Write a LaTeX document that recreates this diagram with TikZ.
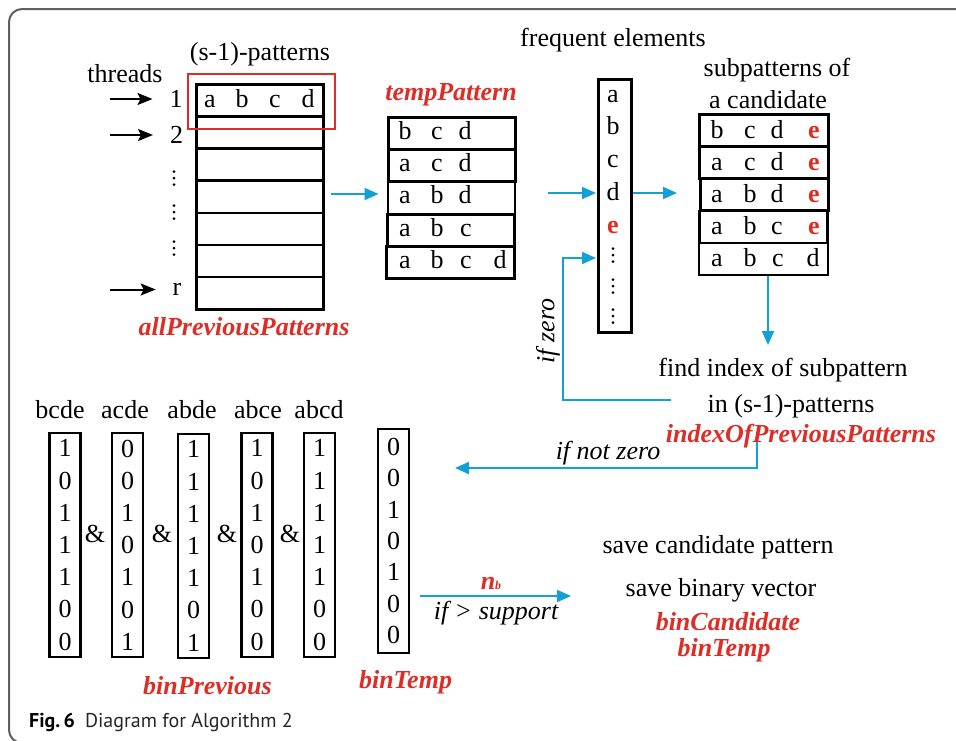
\documentclass[tikz,border=0pt]{standalone}
\usepackage{fontspec}
\setmainfont{Liberation Serif}
\newfontfamily\capfont{PT Sans}
\usetikzlibrary{arrows.meta}
\definecolor{hred}{RGB}{222,45,38}
\definecolor{hblue}{RGB}{18,160,215}
\definecolor{framegray}{RGB}{95,95,95}
\tikzset{
  txt/.style={inner sep=0pt, outer sep=0pt, font=\fontsize{26}{30}\selectfont},
  redtxt/.style={txt, text=hred, font=\fontsize{26}{30}\selectfont\bfseries\itshape},
  ittxt/.style={txt, font=\fontsize{26}{30}\selectfont\itshape},
  cell/.style={draw=black, line width=2.5pt, inner sep=0pt, anchor=north west},
  vec/.style={draw=black, line width=2.5pt, inner sep=0pt, minimum width=31pt, minimum height=224pt, align=center, font=\fontsize{26}{32.2}\selectfont},
  bluearr/.style={draw=hblue, line width=2pt, -{Triangle[length=14pt,width=12pt]}},
  blackarr/.style={draw=black, line width=2pt, -{Stealth[length=15pt,width=12pt,inset=3pt]}},
  vdts/.pic={\foreach \k in {-6.5,0,6.5} \fill (0,\k) circle (1.5pt);}
}
\newcommand{\rowletters}[3]{\foreach \xx/\ll in {#3} \node[txt, anchor=base] (#1-\ll) at (\xx,#2) {\ll};}
\newcommand{\redE}[3]{\node[txt, anchor=base, text=hred, font=\fontsize{26}{30}\selectfont\bfseries] (#1) at (#2,#3) {e};}
\begin{document}
\begin{tikzpicture}[x=1pt,y=-1pt]
\useasboundingbox (0,0) rectangle (956,740);
\clip (0,0) rectangle (956,740);
\draw[framegray, line width=2pt, rounded corners=13pt] (9,9) rectangle (1010,743);

% ---------- allPreviousPatterns ----------
\node[txt] (threads) at (125,73.5) {threads};
\node[txt] (spat) at (260,54) {(s-1)-patterns};
\foreach \i in {1,...,7}
  \node[cell, minimum width=127pt, minimum height=32.15pt] (ap\i) at (195,{83+(\i-1)*32.15}) {};
\rowletters{apl}{107}{210/a,242/b,275/c,308/d}
\node[draw=hred, line width=1.5pt, inner sep=0pt, minimum width=147pt, minimum height=55pt, anchor=north west] (rbox) at (187,73) {};
\node[txt] (n1) at (176,99) {1};
\node[txt] (n2) at (176.5,135) {2};
\node[txt] (nr) at (177,289.5) {r};
\coordinate (t1) at (110,99);
\coordinate (t2) at (110,135);
\coordinate (tr) at (110,289.5);
\draw[blackarr, shorten >=17pt] (t1) -- (t1 -| n1.west);
\draw[blackarr, shorten >=17pt] (t2) -- (t2 -| n2.west);
\draw[blackarr, shorten >=17pt] (tr) -- (tr -| nr.west);
\pic at (174,178) {vdts};
\pic at (174,212) {vdts};
\pic at (174,248) {vdts};
\node[redtxt] (apname) at (244,327) {allPreviousPatterns};

% ---------- tempPattern ----------
\node[redtxt] (tpname) at (451,95) {tempPattern};
\node[cell, minimum width=127pt, minimum height=32pt] (tp1) at (387,116) {};
\node[cell, minimum width=127pt, minimum height=32pt] (tp2) at (387,148) {};
\node[cell, minimum width=127pt, minimum height=33pt] (tp3) at (386.5,180) {};
\node[cell, minimum width=127pt, minimum height=32pt] (tp4) at (386,213) {};
\node[cell, minimum width=128pt, minimum height=32pt] (tp5) at (385,245) {};
\rowletters{tpa}{139}{405/b,437/c,465/d}
\rowletters{tpb}{171}{405/a,437/c,465/d}
\rowletters{tpc}{203.5}{405/a,437/b,465/d}
\rowletters{tpd}{236}{405/a,437/b,466/c}
\rowletters{tpe}{268}{405/a,437/b,466/c,500/d}
\coordinate (b1s) at (331,194);
\draw[bluearr, shorten >=8pt] (b1s) -- (b1s -| tp3.west);

% ---------- frequent elements ----------
\node[txt] (fename) at (613,40) {frequent elements};
\node[draw=black, line width=2.5pt, inner sep=0pt, minimum width=33pt, minimum height=253pt, anchor=north west] (fe) at (597,78) {};
\rowletters{fel}{102}{613/a}
\rowletters{fel}{134.75}{613/b}
\rowletters{fel}{167.5}{613/c}
\rowletters{fel}{200.25}{613/d}
\redE{fe-e}{613}{233}
\pic at (613,255) {vdts};
\pic at (613,286) {vdts};
\pic at (613,316) {vdts};
\coordinate (b2s) at (548,193);
\draw[bluearr, shorten >=1pt] (b2s) -- (b2s -| fe.west);
\coordinate (b3e) at (677,193);
\draw[bluearr] (fe.east |- b3e) -- (b3e);

% ---------- subpatterns ----------
\node[txt] (spname1) at (777,70) {subpatterns of};
\node[txt] (spname2) at (768,99.5) {a candidate};
\node[cell, minimum width=129pt, minimum height=32pt] (sp1) at (698,113) {};
\node[cell, minimum width=129pt, minimum height=32pt] (sp2) at (698,145) {};
\node[cell, minimum width=128pt, minimum height=32pt] (sp3) at (699,177) {};
\node[cell, minimum width=128pt, minimum height=32pt] (sp4) at (698,209.5) {};
\node[cell, minimum width=129pt, minimum height=32pt] (sp5) at (697.5,241.5) {};
\rowletters{spa}{138}{717/b,750/c,777/d}
\redE{spa-e}{814}{138}
\rowletters{spb}{170}{717/a,750/c,777/d}
\redE{spb-e}{814}{170}
\rowletters{spc}{202}{717/a,750/b,777/d}
\redE{spc-e}{814}{202}
\rowletters{spd}{234}{717/a,750/b,777/c}
\redE{spd-e}{814}{234}
\rowletters{spe}{266}{717/a,750/b,778/c,813/d}
\coordinate (b4e) at (768,345);
\draw[bluearr] (sp5.south -| b4e) -- (b4e);

% ---------- find index ----------
\node[txt] (fi1) at (783,370) {find index of subpattern};
\node[txt] (fi2) at (791,406) {in (s-1)-patterns};
\coordinate (nz0) at (757,432);
\coordinate (nz1) at (455,468);
\draw[bluearr] (nz0) |- (nz1);
\node[redtxt] (fi3) at (801,436) {indexOfPreviousPatterns};
\node[ittxt] (ifnz) at (608,453) {if not zero};
\coordinate (z0) at (671,400);
\coordinate (z1) at (563,258);
\draw[bluearr, shorten >=1pt] (z0) -| (z1) -- (z1 -| fe.west);
\node[ittxt, rotate=90] (ifz) at (548,331) {if zero};

% ---------- binary vectors ----------
\node[txt] (h1) at (60,410) {bcde};
\node[txt] (h2) at (125,410) {acde};
\node[txt] (h3) at (192,410) {abde};
\node[txt] (h4) at (258,410) {abce};
\node[txt] (h5) at (319,410) {abcd};
\node[vec] (v1) at (65,545) {1\\0\\1\\1\\1\\0\\0};
\node[vec] (v2) at (127.5,545) {0\\0\\1\\0\\1\\0\\1};
\node[vec] (v3) at (193.5,546) {1\\1\\1\\1\\1\\0\\1};
\node[vec] (v4) at (257,545) {1\\0\\1\\0\\1\\0\\0};
\node[vec] (v5) at (319.5,545) {1\\1\\1\\1\\1\\0\\0};
\node[vec, font=\fontsize{26}{31.3}\selectfont] (bt) at (393.5,541) {0\\0\\1\\0\\1\\0\\0};
\node[txt] (and1) at (95,533.5) {\&};
\node[txt] (and2) at (162,533.5) {\&};
\node[txt] (and3) at (227,533.5) {\&};
\node[txt] (and4) at (290,533.5) {\&};
\node[redtxt] (bpname) at (207.5,686) {binPrevious};
\node[redtxt] (btname) at (405.5,682) {binTemp};

% ---------- save ----------
\coordinate (nb0) at (420,596);
\coordinate (nb1) at (571,596);
\draw[bluearr] (nb0) -- (nb1);
\node[redtxt] (nb) at (491,583) {n{\fontsize{12}{12}\selectfont b}};
\node[ittxt] (ifs) at (496,613) {if > support};
\node[txt] (sc) at (718,547) {save candidate pattern};
\node[txt] (sb) at (721,590) {save binary vector};
\node[redtxt] (bc) at (728,622) {binCandidate};
\node[redtxt] (bt2) at (724,650) {binTemp};

% ---------- caption ----------
\node[inner sep=0pt, anchor=base west, font=\capfont\fontsize{20}{22}\selectfont, text=black!85] (cap) at (29,727.5) {\textbf{\color{black}Fig.\,6}\hspace{10pt}Diagram for Algorithm 2};
\end{tikzpicture}
\end{document}
